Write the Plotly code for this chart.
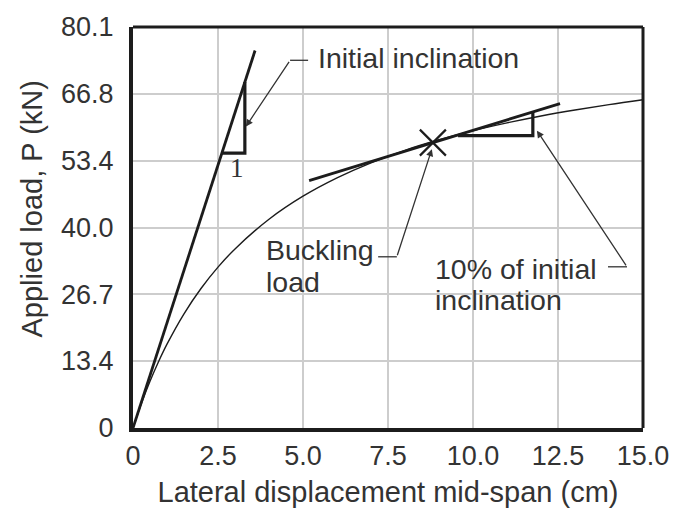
import plotly.graph_objects as go

# Load–displacement response (cm, kN)
disp = [0, 0.25, 0.5, 0.75, 1.0, 1.5, 2.0, 2.5, 3.0, 4.0, 5.0, 6.0, 7.0,
        8.0, 9.0, 10.0, 11.0, 12.0, 13.0, 14.0, 15.0]
load = [0, 4.94, 9.32, 13.23, 16.75, 22.82, 27.87, 32.13, 35.78, 41.70,
        46.30, 49.96, 52.97, 55.47, 57.57, 59.39, 60.95, 62.33, 63.53,
        64.60, 65.57]

# Initial stiffness line and its slope triangle
init_x = [0, 3.59]
init_p = [0, 75.4]
init_tri_x = [2.59, 3.29, 3.29]
init_tri_p = [54.9, 54.9, 69.1]

# Tangent with 10% of the initial inclination and its slope triangle
tan_x = [5.18, 12.56]
tan_p = [49.4, 64.8]
tan_tri_x = [9.56, 11.76, 11.76]
tan_tri_p = [58.4, 58.4, 63.1]

# Buckling point
buck_x = [8.82]
buck_p = [57.0]

x_ticks = [0, 2.5, 5.0, 7.5, 10.0, 12.5, 15.0]
x_labels = ["0", "2.5", "5.0", "7.5", "10.0", "12.5", "15.0"]
y_ticks = [0, 13.4, 26.7, 40.0, 53.4, 66.8, 80.1]
y_labels = ["0", "13.4", "26.7", "40.0", "53.4", "66.8", "80.1"]

INK = "#1c1c1c"
TXT = "#333333"
FONT = "Liberation Sans, Arial, sans-serif"

fig = go.Figure()
fig.add_trace(go.Scatter(x=disp, y=load, mode="lines",
                         line=dict(color=INK, width=1.4, shape="spline")))
fig.add_trace(go.Scatter(x=init_x, y=init_p, mode="lines",
                         line=dict(color=INK, width=2.8)))
fig.add_trace(go.Scatter(x=init_tri_x, y=init_tri_p, mode="lines",
                         line=dict(color=INK, width=3.2)))
fig.add_trace(go.Scatter(x=tan_x, y=tan_p, mode="lines",
                         line=dict(color=INK, width=2.8)))
fig.add_trace(go.Scatter(x=tan_tri_x, y=tan_tri_p, mode="lines",
                         line=dict(color=INK, width=3.2)))
fig.add_trace(go.Scatter(x=buck_x, y=buck_p, mode="markers",
                         marker=dict(symbol="x-thin", size=26,
                                     line=dict(color=INK, width=2.2))))

annotations = []


def label(text, x, y, size=28.5, family=FONT, xanchor="left"):
    annotations.append(dict(text=text, x=x, y=y, xref="x", yref="y",
                            showarrow=False, xanchor=xanchor, yanchor="middle",
                            font=dict(size=size, family=family, color=TXT)))


def leader(tip_x, tip_y, tail_x, tail_y):
    annotations.append(dict(text="", x=tip_x, y=tip_y, ax=tail_x, ay=tail_y,
                            xref="x", yref="y", axref="x", ayref="y",
                            showarrow=True, arrowhead=2, arrowsize=1.1,
                            arrowwidth=1.3, arrowcolor=TXT, standoff=0))


label("Initial inclination", 5.38, 74.0)
label("Buckling", 3.85, 35.6)
label("load", 3.85, 29.1)
label("10% of initial", 8.82, 31.7)
label("inclination", 8.82, 25.6)
label("1", 3.06, 51.9, size=27, family="Liberation Serif, Times New Roman, serif",
      xanchor="center")

leader(3.32, 60.2, 4.62, 73.45)
leader(8.79, 55.7, 7.76, 34.2)
leader(11.88, 59.4, 14.53, 32.2)

# Y-axis title, placed as rotated text beside the tick labels
annotations.append(dict(text="Applied load, P (kN)", textangle=-90,
                        x=-0.198, y=0.545, xref="paper", yref="paper",
                        showarrow=False, xanchor="center", yanchor="middle",
                        font=dict(size=29, family=FONT, color=TXT)))

shapes = [
    # leader stubs next to the texts
    dict(type="line", xref="x", yref="y", x0=4.62, y0=73.45, x1=5.15, y1=73.45,
         line=dict(color=TXT, width=1.3)),
    dict(type="line", xref="x", yref="y", x0=7.21, y0=34.2, x1=7.76, y1=34.2,
         line=dict(color=TXT, width=1.3)),
    dict(type="line", xref="x", yref="y", x0=13.97, y0=32.2, x1=14.53, y1=32.2,
         line=dict(color=TXT, width=1.3)),
    # top and right frame edges
    dict(type="line", xref="paper", yref="paper", x0=0, y0=1, x1=1, y1=1,
         line=dict(color=INK, width=3)),
    dict(type="line", xref="paper", yref="paper", x0=1, y0=0, x1=1, y1=1,
         line=dict(color=INK, width=3)),
]

axis_common = dict(showgrid=True, gridcolor="#cdcdcd", gridwidth=1.6,
                   showline=True, linecolor=INK, linewidth=4, zeroline=False,
                   ticks="", tickfont=dict(size=27, family=FONT, color=TXT))

fig.update_layout(
    width=686, height=516,
    margin=dict(l=133, r=43, t=20, b=86),
    paper_bgcolor="white", plot_bgcolor="white",
    showlegend=False,
    font=dict(family=FONT, color=TXT),
    xaxis=dict(range=[0, 15.0], tickvals=x_ticks, ticktext=x_labels,
               ticklabelstandoff=1,
               title=dict(text="Lateral displacement mid-span (cm)",
                          font=dict(size=29, family=FONT, color=TXT),
                          standoff=12),
               **axis_common),
    yaxis=dict(range=[0, 80.1], tickvals=y_ticks, ticktext=y_labels,
               ticklabelstandoff=10,
               **axis_common),
    annotations=annotations,
    shapes=shapes,
)

fig.write_html("out.html")
